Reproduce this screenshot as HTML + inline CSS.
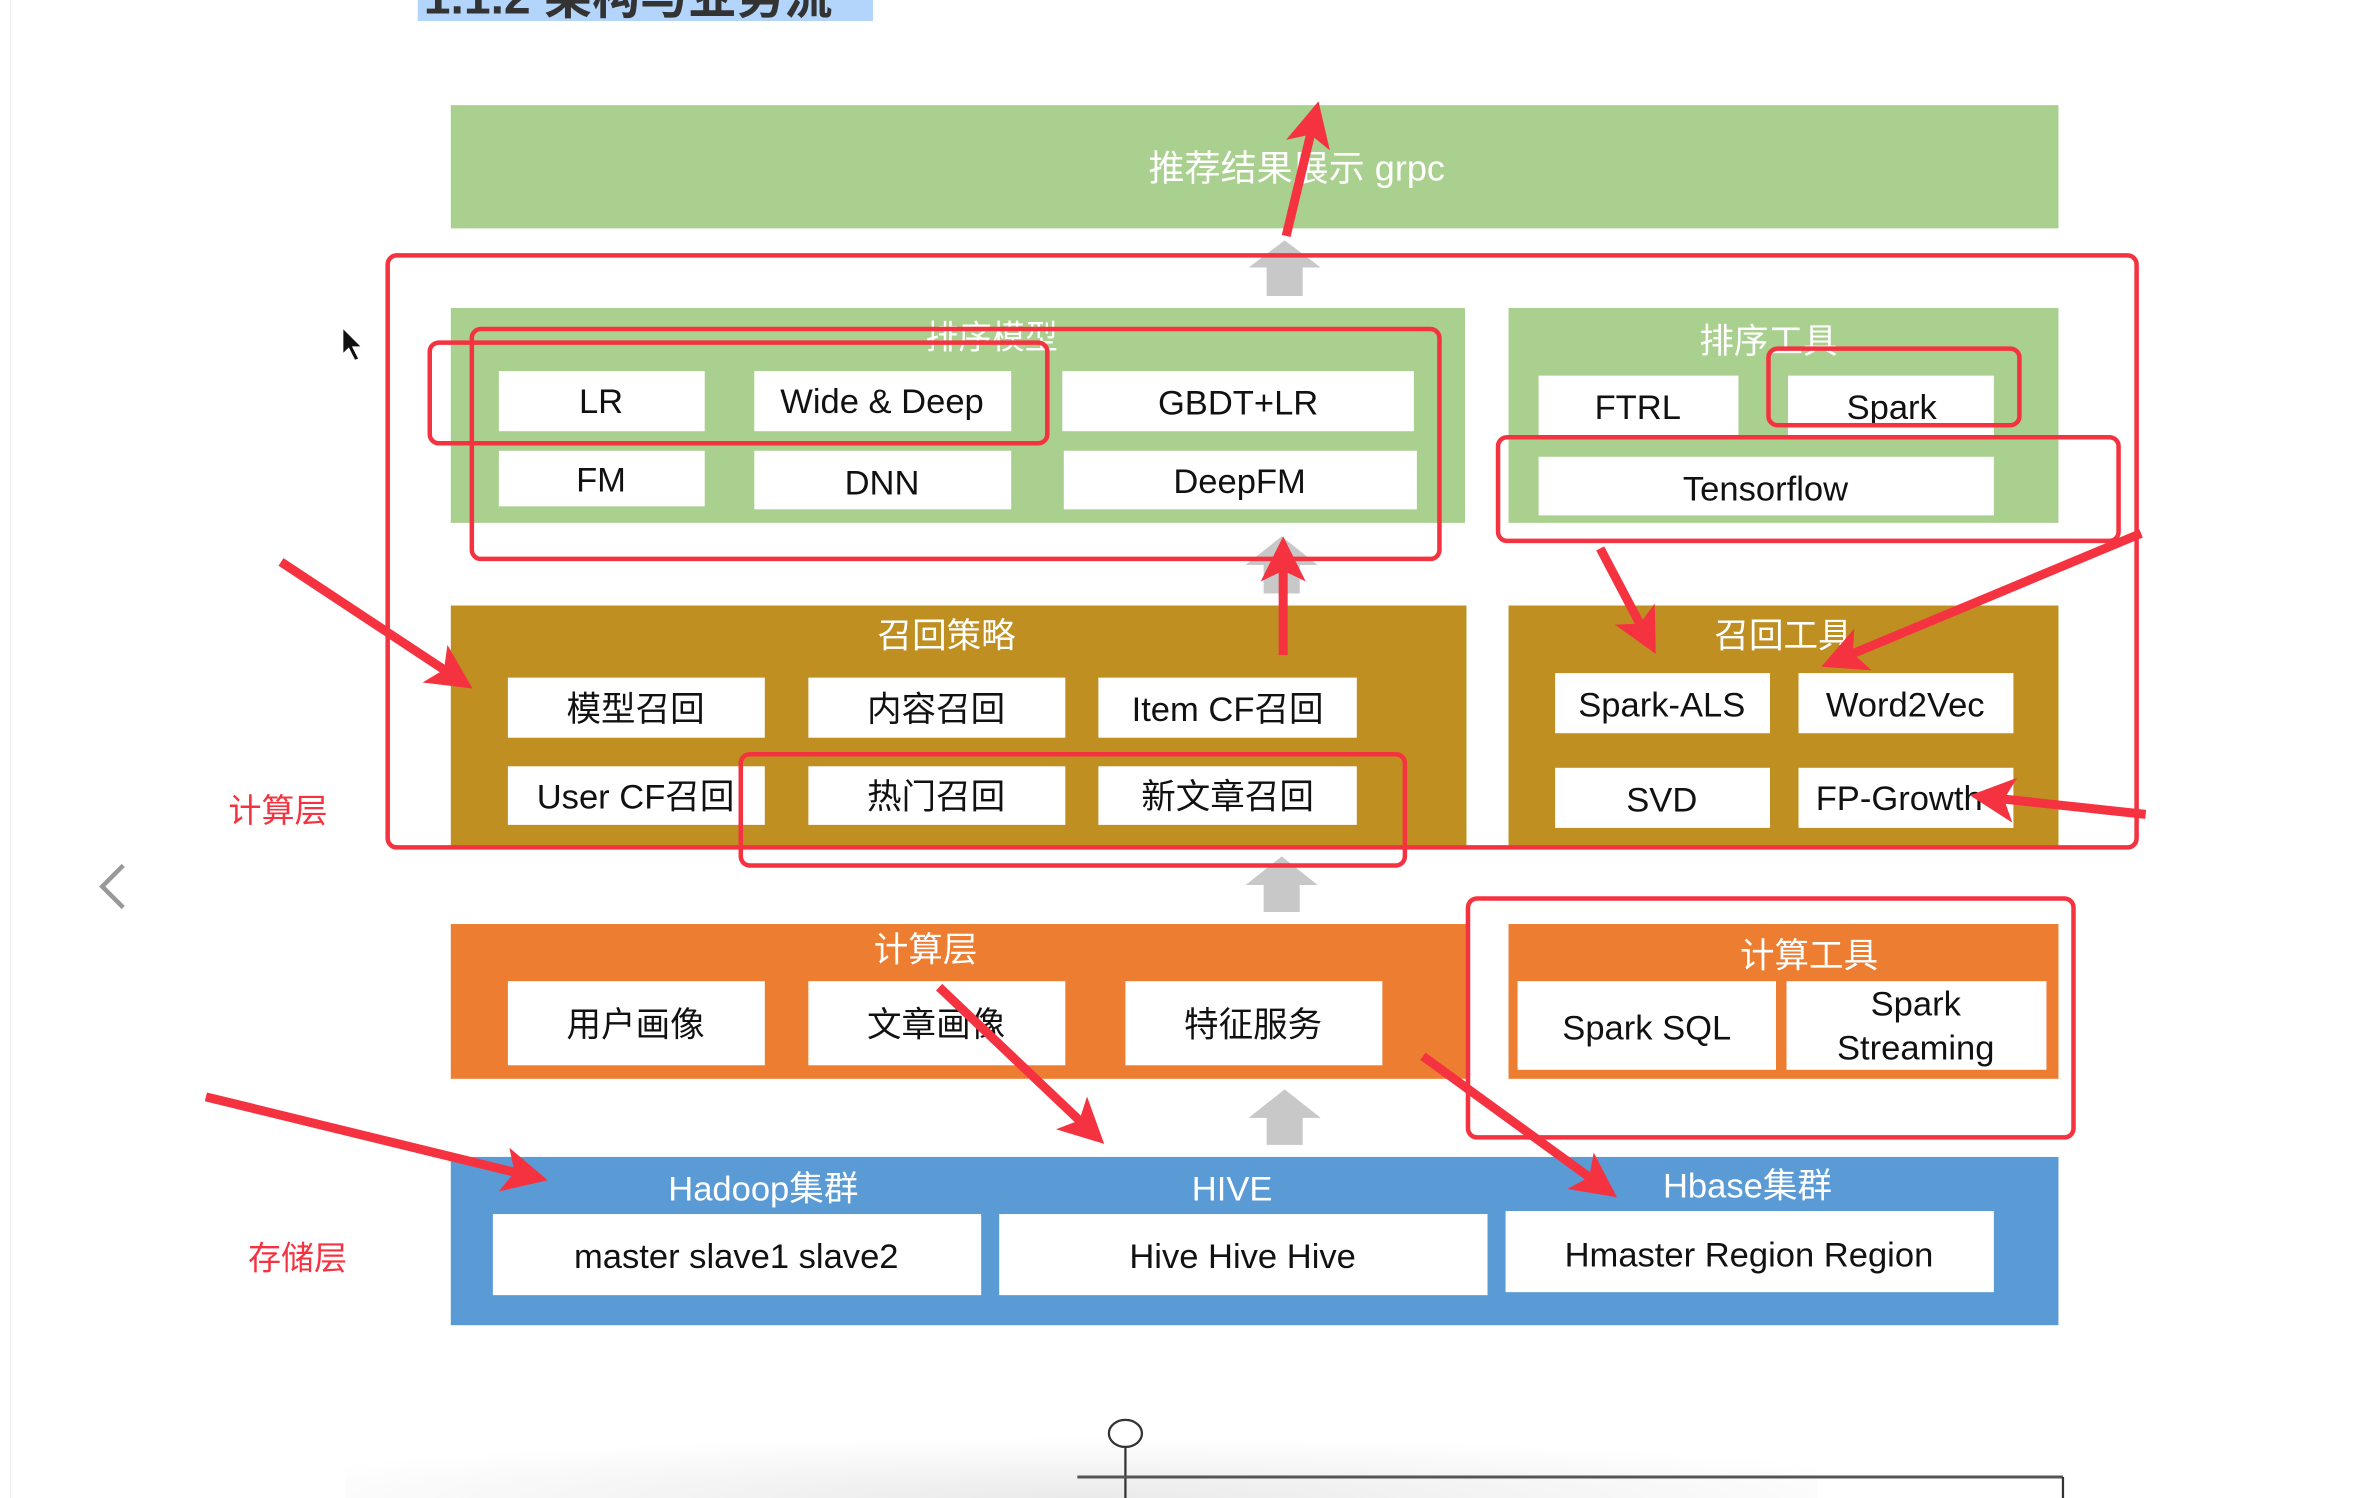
<!DOCTYPE html>
<html><head><meta charset="utf-8"><style>
html,body{margin:0;padding:0;background:#fff;}
svg{display:block;}
text{font-family:"Liberation Sans","Noto Sans CJK SC",sans-serif;}
</style></head><body>
<svg width="2356" height="1498" viewBox="0 0 1568 997" xmlns="http://www.w3.org/2000/svg">
<defs>
<marker id="ah" markerWidth="5" markerHeight="5" refX="2.5" refY="2.5" orient="auto" markerUnits="strokeWidth">
<path d="M0,0 L5,2.5 L0,5 L1.2,2.5 z" fill="#f53340"/></marker>
<radialGradient id="sh" cx="0.5" cy="1" r="0.6"><stop offset="0" stop-color="#eaeaea"/><stop offset="1" stop-color="#fff"/></radialGradient>
</defs>
<rect width="1568" height="997" fill="#fff"/>
<line x1="7" y1="0" x2="7" y2="997" stroke="#eee" stroke-width="1"/>
<rect x="278" y="0" width="303" height="14" fill="#b4d5fb"/>
<text x="282" y="9" font-size="32" font-weight="bold" fill="#333">1.1.2 架构与业务流</text>
<rect x="230" y="930" width="980" height="67" fill="url(#sh)"/>

<rect x="300" y="70" width="1070" height="82" fill="#a9d08e"/>
<text x="863" y="120" font-size="24" fill="#fff" text-anchor="middle">推荐结果展示 grpc</text>

<g fill="#c8c8c8">
<path d="M843,197 V178 H831 L855,160 L879,178 H867 V197 z"/>
<path d="M841,395 V376 H829 L853,357 L877,376 H865 V395 z"/>
<path d="M841,607 V589 H829 L853,570 L877,589 H865 V607 z"/>
<path d="M843,762 V744 H831 L855,725 L879,744 H867 V762 z"/>
</g>

<rect x="300" y="205" width="675" height="143" fill="#a9d08e"/>
<text x="660" y="232" font-size="22" fill="#fff" text-anchor="middle">排序模型</text>
<g fill="#fff">
<rect x="332" y="247" width="137" height="40"/><rect x="502" y="247" width="171" height="40"/><rect x="707" y="247" width="234" height="40"/>
<rect x="332" y="300" width="137" height="37"/><rect x="502" y="300" width="171" height="39"/><rect x="708" y="300" width="235" height="39"/>
</g>
<g font-size="23" fill="#111" text-anchor="middle">
<text x="400" y="275">LR</text><text x="587" y="275">Wide &amp; Deep</text><text x="824" y="276">GBDT+LR</text>
<text x="400" y="327">FM</text><text x="587" y="329">DNN</text><text x="825" y="328">DeepFM</text>
</g>

<rect x="1004" y="205" width="366" height="143" fill="#a9d08e"/>
<text x="1177" y="235" font-size="23" fill="#fff" text-anchor="middle">排序工具</text>
<g fill="#fff"><rect x="1024" y="250" width="133" height="41"/><rect x="1190" y="250" width="137" height="41"/><rect x="1024" y="304" width="303" height="39"/></g>
<g font-size="23" fill="#111" text-anchor="middle"><text x="1090" y="279">FTRL</text><text x="1259" y="279">Spark</text><text x="1175" y="333">Tensorflow</text></g>

<rect x="300" y="403" width="676" height="160" fill="#bf9021"/>
<text x="630" y="431" font-size="23" fill="#fff" text-anchor="middle">召回策略</text>
<g fill="#fff">
<rect x="338" y="451" width="171" height="40"/><rect x="538" y="451" width="171" height="40"/><rect x="731" y="451" width="172" height="40"/>
<rect x="338" y="510" width="171" height="39"/><rect x="538" y="510" width="171" height="39"/><rect x="731" y="510" width="172" height="39"/>
</g>
<g font-size="23" fill="#111" text-anchor="middle">
<text x="423" y="480">模型召回</text><text x="623" y="480">内容召回</text><text x="817" y="480">Item CF召回</text>
<text x="423" y="538">User CF召回</text><text x="623" y="538">热门召回</text><text x="817" y="538">新文章召回</text>
</g>

<rect x="1004" y="403" width="366" height="160" fill="#bf9021"/>
<text x="1187" y="431" font-size="23" fill="#fff" text-anchor="middle">召回工具</text>
<g fill="#fff"><rect x="1035" y="448" width="143" height="40"/><rect x="1197" y="448" width="143" height="40"/><rect x="1035" y="511" width="143" height="40"/><rect x="1197" y="511" width="143" height="40"/></g>
<g font-size="23" fill="#111" text-anchor="middle"><text x="1106" y="477">Spark-ALS</text><text x="1268" y="477">Word2Vec</text><text x="1106" y="540">SVD</text><text x="1264" y="539">FP-Growth</text></g>

<rect x="300" y="615" width="676" height="103" fill="#ed7d31"/>
<text x="616" y="640" font-size="23" fill="#fff" text-anchor="middle">计算层</text>
<g fill="#fff"><rect x="338" y="653" width="171" height="56"/><rect x="538" y="653" width="171" height="56"/><rect x="749" y="653" width="171" height="56"/></g>
<g font-size="23" fill="#111" text-anchor="middle"><text x="423" y="690">用户画像</text><text x="623" y="690">文章画像</text><text x="834" y="690">特征服务</text></g>

<rect x="1004" y="615" width="366" height="103" fill="#ed7d31"/>
<text x="1204" y="644" font-size="23" fill="#fff" text-anchor="middle">计算工具</text>
<g fill="#fff"><rect x="1010" y="653" width="172" height="59"/><rect x="1189" y="653" width="173" height="59"/></g>
<g font-size="23" fill="#111" text-anchor="middle"><text x="1096" y="692">Spark SQL</text><text x="1275" y="676">Spark</text><text x="1275" y="705">Streaming</text></g>

<rect x="300" y="770" width="1070" height="112" fill="#5b9bd5"/>
<g font-size="23" fill="#fff" text-anchor="middle"><text x="508" y="799">Hadoop集群</text><text x="820" y="799">HIVE</text><text x="1163" y="797">Hbase集群</text></g>
<g fill="#fff"><rect x="328" y="808" width="325" height="54"/><rect x="665" y="808" width="325" height="54"/><rect x="1002" y="806" width="325" height="54"/></g>
<g font-size="23" fill="#111" text-anchor="middle"><text x="490" y="844">master slave1 slave2</text><text x="827" y="844">Hive Hive Hive</text><text x="1164" y="843">Hmaster Region Region</text></g>

<text x="185" y="547" font-size="22" fill="#f53340" text-anchor="middle">计算层</text>
<text x="198" y="845" font-size="22" fill="#f53340" text-anchor="middle">存储层</text>
<path d="M82,576 L68,590 L82,604" stroke="#999" stroke-width="3" fill="none"/>
<path d="M228,218 v18 l4,-4 l4,8 l3,-1 l-4,-8 h6 z" fill="#111" stroke="#fff" stroke-width="1"/>

<g fill="none" stroke="#f53340" stroke-width="3">
<rect x="258" y="170" width="1164" height="394" rx="6"/>
<rect x="286" y="228" width="411" height="67" rx="6"/>
<rect x="314" y="219" width="644" height="153" rx="6"/>
<rect x="1177" y="232" width="167" height="51" rx="6"/>
<rect x="997" y="291" width="413" height="69" rx="6"/>
<rect x="493" y="502" width="442" height="74" rx="6"/>
<rect x="977" y="598" width="403" height="159" rx="6"/>
</g>

<g stroke="#f53340" stroke-width="6" marker-end="url(#ah)" fill="none">
<line x1="856" y1="157" x2="874" y2="82"/>
<line x1="854" y1="436" x2="854" y2="372"/>
<line x1="187" y1="374" x2="302" y2="450"/>
<line x1="1065" y1="365" x2="1095" y2="422"/>
<line x1="1425" y1="355" x2="1226" y2="438"/>
<line x1="1428" y1="542" x2="1326" y2="531"/>
<line x1="625" y1="657" x2="724" y2="751"/>
<line x1="137" y1="730" x2="350" y2="782"/>
<line x1="947" y1="703" x2="1064" y2="788"/>
</g>

<g stroke="#333" stroke-width="1.5" fill="none">
<ellipse cx="749" cy="954" rx="11" ry="9" fill="#fff"/>
<line x1="749" y1="963" x2="749" y2="997"/>
<line x1="717" y1="983" x2="1373" y2="983" stroke="#555" stroke-width="2"/>
<line x1="1373" y1="983" x2="1373" y2="997"/>
</g>
</svg>
</body></html>
